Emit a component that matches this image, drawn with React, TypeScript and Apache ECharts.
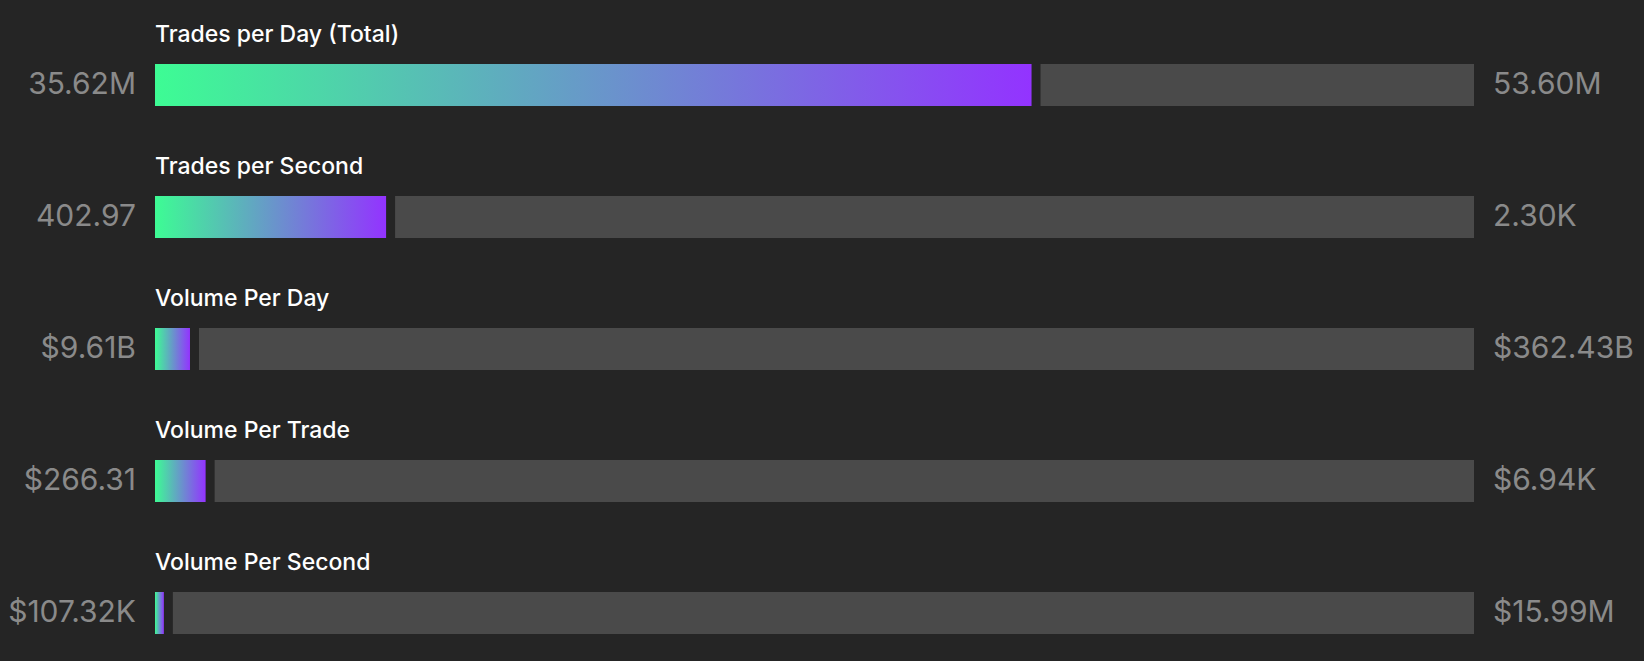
import { useEffect, useRef } from "react";
import * as echarts from "echarts";

const metrics = [
  "Trades per Day (Total)",
  "Trades per Second",
  "Volume Per Day",
  "Volume Per Trade",
  "Volume Per Second",
];
const currentValues = [35.62e6, 402.97, 9.61e9, 266.31, 107.32e3];
const maxValues = [53.6e6, 2.3e3, 362.43e9, 6.94e3, 15.99e6];
const prefixes = ["", "", "$", "$", "$"];

const BG = "#252525";
const TRACK = "#4a4a4a";
const BAR_H = 42;
const GAP = 9;
const FONT = "Inter, 'Noto Sans', sans-serif";

function formatValue(v: number, prefix: string) {
  if (v >= 1e9) return prefix + (v / 1e9).toFixed(2) + "B";
  if (v >= 1e6) return prefix + (v / 1e6).toFixed(2) + "M";
  if (v >= 1e3) return prefix + (v / 1e3).toFixed(2) + "K";
  return prefix + v.toFixed(2);
}

export default function App() {
  const chartRef = useRef<HTMLDivElement>(null);

  useEffect(() => {
    document.body.style.margin = "0";
    document.body.style.background = BG;
    if (!chartRef.current) return;
    const chart = echarts.init(chartRef.current, null, { renderer: "svg" });

    const data = metrics.map((_, i) => [currentValues[i] / maxValues[i], i]);

    const option: echarts.EChartsOption = {
      animation: false,
      backgroundColor: BG,
      // grid spans the row centres: first row at top, last row at bottom
      grid: { left: 155, right: 170, top: 85, height: 528 },
      xAxis: { type: "value", min: 0, max: 1, show: false },
      yAxis: {
        type: "value",
        min: 0,
        max: metrics.length - 1,
        inverse: true,
        show: false,
      },
      series: [
        {
          type: "custom",
          data,
          clip: false,
          encode: { x: 0, y: 1 },
          renderItem: (params: any, api: any) => {
            const ratio = api.value(0);
            const idx = api.value(1);
            const start = api.coord([0, idx]);
            const end = api.coord([ratio, idx]);
            const trackEnd = api.coord([1, idx]);
            const top = start[1] - BAR_H / 2;
            return {
              type: "group",
              children: [
                {
                  type: "rect",
                  shape: { x: start[0], y: top, width: end[0] - start[0], height: BAR_H },
                  style: {
                    fill: new echarts.graphic.LinearGradient(0, 0, 1, 0, [
                      { offset: 0, color: "#3dfc94" },
                      { offset: 1, color: "#9333ff" },
                    ]),
                  },
                },
                {
                  type: "rect",
                  shape: {
                    x: end[0] + GAP,
                    y: top,
                    width: trackEnd[0] - end[0] - GAP,
                    height: BAR_H,
                  },
                  style: { fill: TRACK },
                },
                {
                  type: "text",
                  x: start[0],
                  y: top - 30,
                  style: {
                    text: metrics[idx],
                    fill: "#ffffff",
                    fontSize: 23,
                    fontWeight: 500,
                    fontFamily: FONT,
                    align: "left",
                    verticalAlign: "middle",
                  },
                },
                {
                  type: "text",
                  x: start[0] - 19,
                  y: start[1] - 2,
                  style: {
                    text: formatValue(currentValues[idx], prefixes[idx]),
                    fill: "#8a8a8a",
                    fontSize: 30,
                    fontFamily: FONT,
                    align: "right",
                    verticalAlign: "middle",
                  },
                },
                {
                  type: "text",
                  x: trackEnd[0] + 19,
                  y: start[1] - 2,
                  style: {
                    text: formatValue(maxValues[idx], prefixes[idx]),
                    fill: "#8a8a8a",
                    fontSize: 30,
                    fontFamily: FONT,
                    align: "left",
                    verticalAlign: "middle",
                  },
                },
              ],
            };
          },
        },
      ],
    };

    chart.setOption(option);
    return () => chart.dispose();
  }, []);

  return <div ref={chartRef} style={{ width: 1644, height: 661 }} />;
}
